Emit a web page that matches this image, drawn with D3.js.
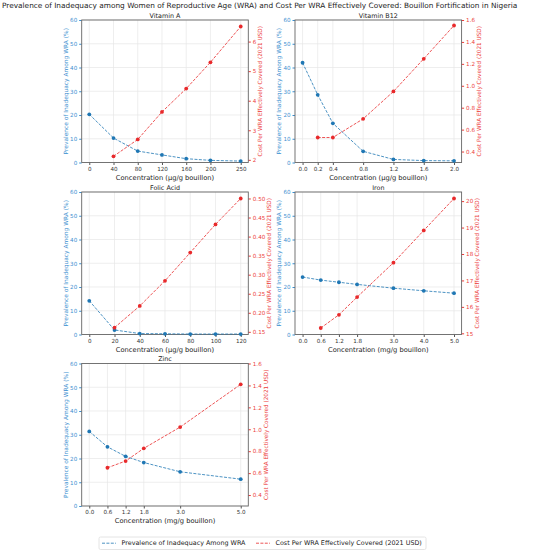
<!DOCTYPE html>
<html>
<head>
<meta charset="utf-8">
<script src="https://cdn.jsdelivr.net/npm/d3@7"></script>
<style>
  body { margin: 0; background: #fff; }
  svg { font-family: "DejaVu Sans", sans-serif; }
</style>
</head>
<body>
<svg width="546" height="550"></svg>
<script>
// values
const vitAConc = [0, 40, 80, 120, 160, 200, 250]
const vitAPrev = [20.3, 10.3, 4.8, 3.2, 1.6, 0.9, 0.6]
const vitACostConc = [40, 80, 120, 160, 200, 250]
const vitACost = [2.12, 2.69, 3.62, 4.41, 5.30, 6.51]

const b12Conc = [0.0, 0.2, 0.4, 0.8, 1.2, 1.6, 2.0]
const b12Prev = [42.0, 28.5, 16.5, 4.7, 1.3, 0.8, 0.7]
const b12CostConc = [0.2, 0.4, 0.8, 1.2, 1.6, 2.0]
const b12Cost = [0.528, 0.528, 0.698, 0.948, 1.246, 1.55]

const folicConc = [0, 20, 40, 60, 80, 100, 120]
const folicPrev = [14.2, 1.9, 0.4, 0.3, 0.2, 0.2, 0.2]
const folicCostConc = [20, 40, 60, 80, 100, 120]
const folicCost = [0.161, 0.218, 0.284, 0.358, 0.432, 0.50]

const ironConc = [0.0, 0.6, 1.2, 1.8, 3.0, 4.0, 5.0]
const ironPrev = [24.2, 22.9, 22.0, 21.1, 19.5, 18.4, 17.4]
const ironCostConc = [0.6, 1.2, 1.8, 3.0, 4.0, 5.0]
const ironCost = [15.2, 15.7, 16.37, 17.67, 18.89, 20.1]

const zincConc = [0.0, 0.6, 1.2, 1.8, 3.0, 5.0]
const zincPrev = [31.4, 24.9, 20.9, 18.3, 14.4, 11.3]
const zincCostConc = [0.6, 1.2, 1.8, 3.0, 5.0]
const zincCost = [0.649, 0.71, 0.826, 1.02, 1.41]

const prevTicks = [0, 10, 20, 30, 40, 50, 60]
const vitACostTicks = [2, 3, 4, 5, 6]
const b12CostTicks = [0.4, 0.6, 0.8, 1.0, 1.2, 1.4, 1.6]
const folicCostTicks = [0.15, 0.20, 0.25, 0.30, 0.35, 0.40, 0.45, 0.50]
const ironCostTicks = [15, 16, 17, 18, 19, 20]
const zincCostTicks = [0.4, 0.6, 0.8, 1.0, 1.2, 1.4, 1.6]

const blue = '#1f77b4', red = '#e8292b'
const blueText = '#3d8fd0', redText = '#ec3b3b'
const plotW = 166.6, plotH = 142.5
const colX = [81.7, 295], rowY = [20, 192, 363.5]

const panels = [
    { title: 'Vitamin A', unit: 'µg/g', conc: vitAConc, prev: vitAPrev, costConc: vitACostConc, cost: vitACost,
      costTicks: vitACostTicks, costDomain: [1.91, 6.73], fmt: d3.format('d'), col: 0, row: 0 },
    { title: 'Vitamin B12', unit: 'µg/g', conc: b12Conc, prev: b12Prev, costConc: b12CostConc, cost: b12Cost,
      costTicks: b12CostTicks, costDomain: [0.30, 1.60], fmt: d3.format('.1f'), xfmt: d3.format('.1f'), col: 1, row: 0 },
    { title: 'Folic Acid', unit: 'µg/g', conc: folicConc, prev: folicPrev, costConc: folicCostConc, cost: folicCost,
      costTicks: folicCostTicks, costDomain: [0.143, 0.517], fmt: d3.format('.2f'), col: 0, row: 1 },
    { title: 'Iron', unit: 'mg/g', conc: ironConc, prev: ironPrev, costConc: ironCostConc, cost: ironCost,
      costTicks: ironCostTicks, costDomain: [14.955, 20.345], fmt: d3.format('d'), xfmt: d3.format('.1f'), col: 1, row: 1 },
    { title: 'Zinc', unit: 'mg/g', conc: zincConc, prev: zincPrev, costConc: zincCostConc, cost: zincCost,
      costTicks: zincCostTicks, costDomain: [0.30, 1.60], fmt: d3.format('.1f'), xfmt: d3.format('.1f'), col: 0, row: 2 }
]

const svg = d3.select('svg')

// figure title, sized to span x≈2..518 like the reference
const title = svg.append('text')
    .attr('x', 2).attr('y', 7.8)
    .attr('font-size', 10)
    .attr('fill', '#222')
    .text('Prevalence of Inadequacy among Women of Reproductive Age (WRA) and Cost Per WRA Effectively Covered: Bouillon Fortification in Nigeria')
const titleLen = title.node().getComputedTextLength()
title.attr('font-size', 10 * 516 / titleLen)

const maxWidth = sel => d3.max(sel.selectAll('text').nodes(), n => n.getComputedTextLength())

const drawPanel = (p) => {
    const g = svg.append('g')
        .attr('transform', `translate(${colX[p.col]},${rowY[p.row]})`)

    const ext = d3.extent(p.conc)
    const pad = (ext[1] - ext[0]) * 0.05
    const x = d3.scaleLinear().domain([ext[0] - pad, ext[1] + pad]).range([0, plotW])
    const y = d3.scaleLinear().domain([0, 60]).range([plotH, 0])
    const y2 = d3.scaleLinear().domain(p.costDomain).range([plotH, 0])

    // grid
    g.append('g').selectAll('line')
        .data(p.conc).join('line')
        .attr('x1', d => x(d)).attr('x2', d => x(d))
        .attr('y1', 0).attr('y2', plotH)
        .attr('stroke', '#e6e6e6').attr('stroke-width', 0.7)
    g.append('g').selectAll('line')
        .data(prevTicks).join('line')
        .attr('x1', 0).attr('x2', plotW)
        .attr('y1', d => y(d)).attr('y2', d => y(d))
        .attr('stroke', '#e6e6e6').attr('stroke-width', 0.7)

    // axes
    const xAxis = g.append('g')
        .attr('transform', `translate(0,${plotH})`)
        .call(d3.axisBottom(x).tickValues(p.conc).tickFormat(p.xfmt || d3.format('d')).tickSize(2.5).tickPadding(2))
    const yAxis = g.append('g')
        .call(d3.axisLeft(y).tickValues(prevTicks).tickSize(2.5).tickPadding(2))
    const y2Axis = g.append('g')
        .attr('transform', `translate(${plotW},0)`)
        .call(d3.axisRight(y2).tickValues(p.costTicks).tickFormat(p.fmt).tickSize(2.5).tickPadding(2))

    ;[xAxis, yAxis, y2Axis].forEach(a => {
        a.select('.domain').remove()
        a.selectAll('text').attr('font-size', 5.6).attr('font-family', '"DejaVu Sans", sans-serif')
    })
    xAxis.selectAll('line').attr('stroke', '#555')
    xAxis.selectAll('text').attr('fill', '#333')
    yAxis.selectAll('line').attr('stroke', blueText)
    yAxis.selectAll('text').attr('fill', blueText)
    y2Axis.selectAll('line').attr('stroke', redText)
    y2Axis.selectAll('text').attr('fill', redText)

    // frame
    g.append('rect')
        .attr('width', plotW).attr('height', plotH)
        .attr('fill', 'none').attr('stroke', '#666').attr('stroke-width', 0.9)

    // prevalence series
    const prevPts = p.conc.map((c, i) => [c, p.prev[i]])
    g.append('path')
        .datum(prevPts)
        .attr('fill', 'none').attr('stroke', blue).attr('stroke-width', 0.8)
        .attr('stroke-dasharray', '3,1.4')
        .attr('d', d3.line().x(d => x(d[0])).y(d => y(d[1])))
    g.append('g').selectAll('circle')
        .data(prevPts).join('circle')
        .attr('cx', d => x(d[0])).attr('cy', d => y(d[1])).attr('r', 1.9)
        .attr('fill', blue)

    // cost series
    const costPts = p.costConc.map((c, i) => [c, p.cost[i]])
    g.append('path')
        .datum(costPts)
        .attr('fill', 'none').attr('stroke', red).attr('stroke-width', 0.8)
        .attr('stroke-dasharray', '3,1.4')
        .attr('d', d3.line().x(d => x(d[0])).y(d => y2(d[1])))
    g.append('g').selectAll('circle')
        .data(costPts).join('circle')
        .attr('cx', d => x(d[0])).attr('cy', d => y2(d[1])).attr('r', 1.9)
        .attr('fill', red)

    // labels
    g.append('text')
        .attr('x', plotW / 2).attr('y', -2.5)
        .attr('text-anchor', 'middle').attr('font-size', 6.4).attr('fill', '#222')
        .text(p.title)
    g.append('text')
        .attr('x', plotW / 2).attr('y', plotH + 17)
        .attr('text-anchor', 'middle').attr('font-size', 6.7).attr('fill', '#222')
        .text(`Concentration (${p.unit} bouillon)`)

    const leftW = maxWidth(yAxis)
    g.append('text')
        .attr('transform', `translate(${-(leftW + 6.5)},${plotH / 2}) rotate(-90)`)
        .attr('text-anchor', 'middle').attr('font-size', 5.9).attr('fill', blueText)
        .text('Prevalence of Inadequacy Among WRA (%)')

    const rightW = maxWidth(y2Axis)
    g.append('text')
        .attr('transform', `translate(${plotW + rightW + 10.5},${plotH / 2}) rotate(-90)`)
        .attr('text-anchor', 'middle').attr('font-size', 5.7).attr('fill', redText)
        .text('Cost Per WRA Effectively Covered (2021 USD)')
}

panels.forEach(drawPanel)

// legend
const legend = svg.append('g').attr('transform', 'translate(99,537)')
legend.append('rect')
    .attr('width', 327).attr('height', 12.5)
    .attr('fill', '#fff').attr('stroke', '#ddd').attr('stroke-width', 0.8).attr('rx', 1.5)
const items = [
    { label: 'Prevalence of Inadequacy Among WRA', color: blue, x: 3 },
    { label: 'Cost Per WRA Effectively Covered (2021 USD)', color: red, x: 157 }
]
items.forEach(it => {
    legend.append('line')
        .attr('x1', it.x).attr('x2', it.x + 14).attr('y1', 6.2).attr('y2', 6.2)
        .attr('stroke', it.color).attr('stroke-width', 0.8).attr('stroke-dasharray', '3,1.4')
    legend.append('text')
        .attr('x', it.x + 19.5).attr('y', 8.4)
        .attr('font-size', 6.4).attr('fill', '#222')
        .text(it.label)
})
</script>
</body>
</html>
